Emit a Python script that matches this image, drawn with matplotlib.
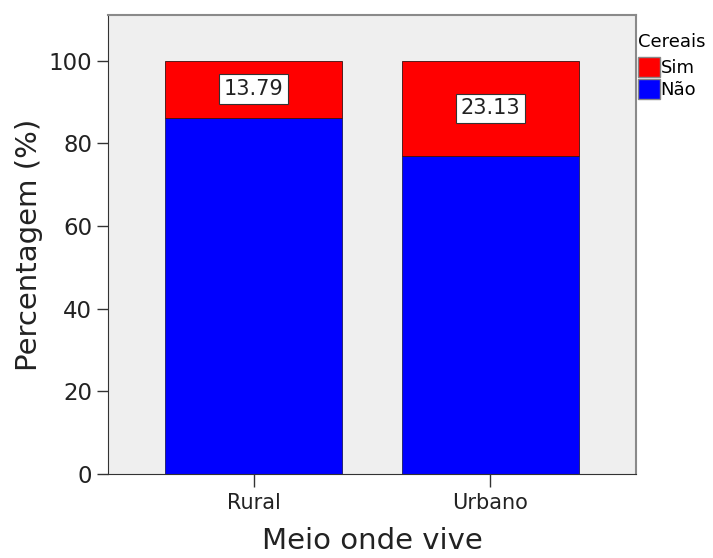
import matplotlib
matplotlib.use("Agg")
import matplotlib.pyplot as plt
from matplotlib.patches import Patch

plt.rcParams["font.family"] = ["DejaVu Sans"]

categories = ["Rural", "Urbano"]
nao_pct = [86.21, 76.87]
sim_pct = [13.79, 23.13]
legend_title = "Cereais"

fig = plt.figure(figsize=(7.13, 5.58), dpi=100)
ax = fig.add_axes([0.1515, 0.1505, 0.7405, 0.8225])
ax.set_facecolor("#efefef")

x = list(range(len(categories)))
ax.bar(x, nao_pct, width=0.75, color="#0000ff", edgecolor="#1a1a60", linewidth=0.6)
ax.bar(x, sim_pct, bottom=nao_pct, width=0.75, color="#ff0000", edgecolor="#3a1010", linewidth=0.6)

for xi, base, val in zip(x, nao_pct, sim_pct):
    ax.text(xi, base + val / 2, f"{val:.2f}", ha="center", va="center", fontsize=15,
            color="#222222",
            bbox=dict(boxstyle="square,pad=0.22", facecolor="white", edgecolor="#333333", linewidth=0.8))

ax.set_xlim(-0.615, 1.615)
ax.set_ylim(0, 111)
ax.set_yticks([0, 20, 40, 60, 80, 100])
ax.set_xticks(x)
ax.set_xticklabels(categories, fontsize=15)
ax.tick_params(axis="y", labelsize=16.5, length=8, width=1, colors="#333333", labelcolor="#222222")
ax.tick_params(axis="x", length=9, width=1, colors="#333333", labelcolor="#222222", pad=5)
ax.set_ylabel("Percentagem (%)", fontsize=21, labelpad=4, color="#222222")
ax.set_xlabel("Meio onde vive", fontsize=21, labelpad=10, color="#222222")

for side in ["left", "bottom"]:
    ax.spines[side].set_color("#333333")
for side in ["top", "right"]:
    ax.spines[side].set_color("#8a8a8a")
    ax.spines[side].set_linewidth(1.5)

handles = [Patch(facecolor="#ff0000", edgecolor="#888888", label="Sim"),
           Patch(facecolor="#0000ff", edgecolor="#888888", label="Não")]
leg = fig.legend(handles=handles, title=legend_title, loc="upper left",
                 bbox_to_anchor=(0.895, 0.94), frameon=False, fontsize=13,
                 title_fontsize=13, handlelength=1.2, handleheight=1.3,
                 handletextpad=0.05, labelspacing=0.12, borderpad=0.0,
                 borderaxespad=0)
leg._legend_box.align = "left"
leg._legend_box.sep = 4

fig.savefig("out.png", dpi=100)
